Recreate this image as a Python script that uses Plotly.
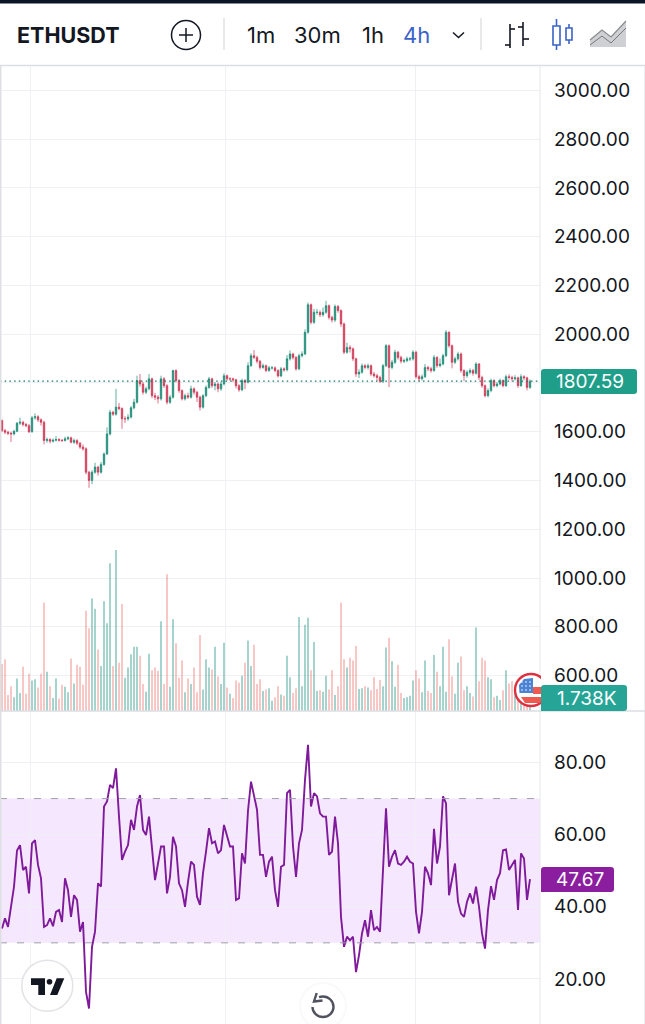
import plotly.graph_objects as go

#page size, everything else is placed in pixels from the top left
W = 645
H = 1024
PANE_RIGHT = 540

#candles
opens = [1646,1605,1598,1594,1591,1602,1635,1639,1630,1625,1600,1657,1662,1649,1639,1564,1568,1561,1565,1568,
         1565,1564,1571,1575,1557,1564,1553,1537,1530,1434,1400,1434,1455,1434,1466,1509,1591,1680,1672,1701,
         1695,1653,1653,1660,1698,1721,1810,1796,1762,1776,1817,1748,1742,1735,1817,1789,1721,1742,1851,1810,
         1769,1735,1748,1742,1776,1762,1742,1701,1748,1782,1817,1789,1796,1776,1796,1830,1817,1817,1813,1789,
         1772,1810,1803,1871,1912,1905,1889,1864,1871,1851,1862,1862,1851,1829,1858,1854,1899,1919,1905,1858,
         1912,1919,2008,2121,2049,2090,2090,2080,2090,2117,2069,2058,2114,2097,2042,1926,1946,1940,1899,1837,
         1844,1871,1864,1871,1837,1830,1823,1807,1871,1953,1864,1885,1926,1905,1889,1892,1899,1899,1926,1826,
         1817,1826,1864,1858,1851,1905,1871,1878,1912,2008,1953,1885,1899,1919,1851,1830,1844,1851,1840,1878,
         1823,1789,1748,1769,1810,1789,1796,1810,1789,1826,1823,1817,1821,1789,1826,1821,1782]
closes = [1605,1598,1594,1591,1602,1635,1639,1630,1625,1600,1657,1662,1649,1639,1564,1568,1561,1565,1568,1565,
          1564,1571,1575,1557,1564,1553,1537,1530,1434,1400,1434,1455,1434,1466,1509,1591,1680,1672,1701,1695,
          1653,1653,1660,1698,1721,1810,1796,1762,1776,1817,1748,1742,1735,1817,1789,1721,1742,1851,1810,1769,
          1735,1748,1742,1776,1762,1742,1701,1748,1782,1817,1789,1796,1776,1796,1830,1817,1817,1813,1789,1772,
          1810,1803,1871,1912,1905,1889,1864,1871,1851,1862,1862,1851,1829,1858,1854,1899,1919,1905,1858,1912,
          1919,2008,2121,2049,2090,2090,2080,2090,2117,2069,2058,2114,2097,2042,1926,1946,1940,1899,1837,1844,
          1871,1864,1871,1837,1830,1823,1807,1871,1953,1864,1885,1926,1905,1889,1892,1899,1899,1926,1826,1817,
          1826,1864,1858,1851,1905,1871,1878,1912,2008,1953,1885,1899,1919,1851,1830,1844,1851,1840,1878,1823,
          1789,1748,1769,1810,1789,1796,1810,1789,1826,1823,1817,1821,1789,1826,1821,1782,1807.59]
highs = [1650,1612,1604,1600,1608,1640,1658,1645,1636,1632,1665,1675,1668,1655,1645,1576,1574,1572,1582,1574,
         1570,1580,1582,1580,1572,1570,1558,1548,1536,1440,1442,1473,1460,1476,1515,1618,1690,1686,1776,1718,
         1700,1664,1672,1706,1735,1830,1837,1804,1785,1837,1822,1760,1750,1830,1824,1795,1750,1854,1856,1816,
         1774,1756,1760,1789,1782,1768,1748,1754,1790,1825,1822,1804,1802,1805,1840,1835,1824,1822,1818,1795,
         1818,1816,1885,1922,1935,1912,1894,1880,1876,1870,1870,1868,1856,1866,1864,1915,1933,1924,1910,1920,
         1930,2020,2130,2126,2104,2104,2098,2110,2137,2122,2076,2122,2120,2102,2048,1965,1955,1946,1904,1856,
         1880,1878,1880,1876,1846,1838,1830,1878,1960,1958,1895,1936,1932,1912,1900,1908,1908,1935,1932,1834,
         1835,1878,1870,1866,1915,1910,1900,1920,2017,2012,1958,1908,1928,1925,1856,1852,1860,1858,1885,1882,
         1830,1794,1778,1818,1815,1804,1818,1815,1834,1836,1830,1832,1826,1836,1832,1826,1815]
lows = [1598,1590,1586,1558,1585,1598,1628,1622,1618,1595,1596,1650,1640,1625,1548,1555,1552,1556,1560,1560,
        1558,1560,1566,1552,1550,1545,1530,1522,1425,1370,1385,1428,1420,1428,1460,1505,1585,1665,1666,1688,
        1612,1636,1645,1654,1692,1716,1785,1752,1755,1770,1738,1730,1716,1728,1780,1712,1714,1736,1802,1760,
        1728,1728,1735,1736,1752,1722,1687,1695,1742,1776,1780,1770,1762,1768,1790,1810,1808,1804,1778,1764,
        1766,1775,1798,1866,1898,1880,1855,1858,1844,1846,1855,1844,1822,1824,1846,1848,1892,1896,1850,1852,
        1905,1914,2002,2040,2042,2080,2070,2072,2084,2060,2048,2050,2088,2030,1918,1920,1925,1890,1825,1820,
        1838,1856,1855,1828,1822,1810,1800,1800,1865,1783,1856,1878,1896,1880,1882,1885,1890,1892,1818,1806,
        1810,1820,1848,1842,1846,1862,1864,1872,1906,1945,1860,1878,1892,1842,1808,1822,1836,1830,1834,1812,
        1780,1741,1741,1762,1782,1782,1790,1782,1784,1814,1806,1810,1780,1784,1812,1770,1776]

#volume in thousands
volumes = [6.8,7.5,2.3,3.6,2.0,4.7,2.6,6.4,2.5,5.4,4.4,4.6,3.4,5.4,15.7,5.7,3.6,1.9,4.7,1.8,
           3.8,3.5,2.7,7.6,4.0,6.7,6.4,3.8,14.5,12.0,16.3,14.8,8.9,6.5,15.9,12.7,21.4,6.5,23.3,7.0,
           15.5,4.8,6.3,8.2,9.3,9.3,8.0,3.9,2.8,8.3,5.9,6.3,5.8,13.0,3.9,19.8,3.5,13.3,9.8,4.8,
           7.3,2.7,4.7,3.9,6.3,2.7,11.0,3.1,7.5,6.3,6.0,9.3,5.0,3.9,9.9,3.4,2.5,1.9,4.4,4.1,
           5.1,7.0,10.2,6.5,9.6,3.9,4.6,2.9,3.1,3.3,1.5,2.0,3.6,2.4,2.2,8.0,4.9,2.6,3.3,13.6,
           3.6,12.5,13.5,5.9,10.0,2.9,3.0,2.8,5.1,3.1,5.9,2.3,3.6,15.7,7.5,6.3,7.7,7.3,9.4,3.2,
           3.3,3.6,3.4,3.0,4.9,3.2,4.5,3.6,9.2,10.6,7.2,3.5,6.7,2.6,1.9,2.0,2.2,4.4,5.9,4.7,
           2.7,7.3,2.9,2.6,8.1,5.7,3.6,9.3,2.8,10.4,5.0,2.5,7.0,7.9,3.0,3.6,2.6,2.1,12.1,4.3,
           7.7,7.3,4.9,4.6,2.0,2.2,1.6,3.0,5.9,4.0,4.3,3.0,3.5,2.0,1.2,1.4,1.738]

rsi = [34.0,36.8,34.4,40.5,45.6,55.6,57.1,50.2,51.1,43.7,57.6,58.5,51.6,47.9,34.4,34.9,36.8,34.6,38.6,39.1,
       35.8,47.9,44.6,37.2,43.2,41.9,33.1,35.8,16.4,11.8,28.9,33.1,46.5,45.6,67.8,69.2,73.8,72.9,78.4,65.0,
       53.0,55.3,57.1,64.1,61.3,67.8,71.0,61.3,59.9,65.0,55.7,47.4,52.0,56.7,56.7,43.7,48.3,59.4,56.7,46.5,
       44.6,40.0,46.9,52.5,51.6,42.8,40.5,49.3,55.3,61.8,57.6,58.1,54.8,55.7,62.7,59.6,56.7,56.7,41.9,42.3,
       54.8,52.0,66.7,74.7,70.6,66.9,54.4,54.4,48.3,52.5,53.9,44.6,40.0,51.1,51.6,71.5,72.4,56.7,48.3,57.6,
       61.3,75.2,84.9,67.8,71.5,70.6,65.9,65.0,65.0,54.4,55.3,65.0,57.6,37.2,28.9,31.7,30.7,31.7,21.9,26.6,
       32.6,36.3,31.7,39.1,33.5,34.4,33.1,49.7,67.3,51.1,53.9,55.7,52.0,51.6,52.5,53.9,52.5,52.0,38.6,32.6,
       38.6,51.1,49.3,46.0,61.6,52.0,56.7,70.6,68.7,43.2,47.9,52.0,41.4,38.1,37.2,41.4,43.7,40.9,45.6,40.0,
       32.6,28.4,39.1,45.7,41.9,47.4,49.3,55.7,55.9,50.2,51.6,53.0,39.1,54.8,53.4,41.9,47.67]

price_ticks = [600,800,1000,1200,1400,1600,1800,2000,2200,2400,2600,2800,3000]
#1800 sits behind the last price tag, so it keeps its grid line but no text
price_labels = ["600.00","800.00","1000.00","1200.00","1400.00","1600.00","","2000.00","2200.00","2400.00","2600.00","2800.00","3000.00"]
rsi_ticks = [20,40,60,80]
time_grid = [9.5,74.5,137.8]
intervals = ["1m","30m","1h","4h"]

UP = "#1b8a75"
DOWN = "#cf3654"
VOL_UP = "rgba(20,140,125,0.5)"
VOL_DOWN = "rgba(230,90,85,0.45)"
GRID = "#eff0f3"
TEXT = "#131722"
PURPLE = "#7f1a9b"
BLUE = "#3a62c8"

#pixel helpers
def px(x):
    return x / W

def py(y):
    return 1 - y / H

def pt(x, y):
    return f"{px(x):.5f},{py(y):.5f}"

def poly(points, close=True):
    d = "M" + " L".join(pt(x, y) for x, y in points)
    return d + (" Z" if close else "")

shapes = []
def add_path(d, fill=None, line=None, width=1):
    shapes.append(dict(type="path", xref="paper", yref="paper", path=d,
                       fillcolor=fill if fill else "rgba(0,0,0,0)",
                       line=dict(color=line if line else "rgba(0,0,0,0)", width=width if line else 0)))

def add_rect(x0, y0, x1, y1, fill):
    shapes.append(dict(type="rect", xref="paper", yref="paper", x0=px(x0), x1=px(x1), y0=py(y1), y1=py(y0),
                       fillcolor=fill, line=dict(width=0)))

def add_circle(cx, cy, r, fill=None, line=None, width=1):
    shapes.append(dict(type="circle", xref="paper", yref="paper", x0=px(cx-r), x1=px(cx+r), y0=py(cy+r), y1=py(cy-r),
                       fillcolor=fill if fill else "rgba(0,0,0,0)",
                       line=dict(color=line if line else "rgba(0,0,0,0)", width=width if line else 0)))

def add_line(x0, y0, x1, y1, color, width=1):
    shapes.append(dict(type="line", xref="paper", yref="paper", x0=px(x0), x1=px(x1), y0=py(y0), y1=py(y1),
                       line=dict(color=color, width=width)))

def add_tag(x0, y0, x1, y1, fill, r=3):
    d = (f"M{pt(x0+r,y0)} L{pt(x1-r,y0)} Q{pt(x1,y0)} {pt(x1,y0+r)} L{pt(x1,y1-r)} Q{pt(x1,y1)} {pt(x1-r,y1)} "
         f"L{pt(x0,y1)} L{pt(x0,y0+r)} Q{pt(x0,y0)} {pt(x0+r,y0)} Z")
    add_path(d, fill=fill)

annotations = []
def add_text(x, y, text, size=19, color=TEXT, anchor="left", bold=False):
    annotations.append(dict(xref="paper", yref="paper", x=px(x), y=py(y), text=f"<b>{text}</b>" if bold else text,
                            showarrow=False, xanchor=anchor, yanchor="middle", borderpad=0,
                            font=dict(family="Inter", size=size, color=color)))

x_idx = list(range(len(closes)))
vol_colors = [VOL_UP if c >= o else VOL_DOWN for o, c in zip(opens, closes)]

fig = go.Figure()

fig.add_trace(go.Bar(x=x_idx, y=volumes, yaxis="y2", width=0.5,
                     marker=dict(color=vol_colors, line=dict(width=0))))
fig.add_trace(go.Candlestick(x=x_idx, open=opens, high=highs, low=lows, close=closes,
                             increasing=dict(line=dict(color=UP, width=0.7), fillcolor=UP),
                             decreasing=dict(line=dict(color=DOWN, width=0.7), fillcolor=DOWN)))
fig.add_trace(go.Scatter(x=x_idx, y=rsi, mode="lines", xaxis="x2", yaxis="y3",
                         line=dict(color=PURPLE, width=1.9)))

#rsi band and last price line
shapes.append(dict(type="rect", xref="x2 domain", yref="y3", x0=0, x1=1, y0=30, y1=70, layer="below",
                   fillcolor="rgba(160,50,245,0.11)", line=dict(width=0)))
for level in (30, 70):
    shapes.append(dict(type="line", xref="x2 domain", yref="y3", x0=0, x1=1, y0=level, y1=level,
                       line=dict(color="#a29daa", width=1, dash="7px,10px")))
shapes.append(dict(type="line", xref="x domain", yref="y", x0=0, x1=1, y0=closes[-1], y1=closes[-1],
                   line=dict(color="#127a68", width=1.3, dash="1.5px,3.2px")))

#frame
add_rect(0, 0, W, 3.5, "#0a1626")
add_line(0, 65.5, W, 65.5, "#dcdee2", 1.5)
add_line(0.7, 66, 0.7, H, "#dddfe2", 1.5)
add_line(PANE_RIGHT, 66, PANE_RIGHT, H, "#e6e8eb", 1)
add_line(644.5, 66, 644.5, H, "#eceef0", 1)
add_line(0, 711, W, 711, "#dcdee2", 1.5)

#header
add_text(16, 35, "ETHUSDT", size=21.5, bold=True)
add_circle(186, 35, 14.5, line=TEXT, width=1.5)
add_line(179, 35, 193, 35, TEXT, 1.5)
add_line(186, 28, 186, 42, TEXT, 1.5)
add_line(224, 18, 224, 50, "#d8dade", 1.2)
add_line(481, 18, 481, 50, "#d8dade", 1.2)
for label, x in zip(intervals, (260.5, 317.5, 373, 417)):
    add_text(x, 35, label, size=22, color=BLUE if label == "4h" else TEXT, anchor="center")
add_path(poly([(453, 32.5), (458.5, 37.5), (464, 32.5)], close=False), line=TEXT, width=1.5)

#bar style icons
add_path(poly([(510, 24), (510, 48)], close=False), line=TEXT, width=1.6)
add_path(poly([(510, 29), (515, 29)], close=False), line=TEXT, width=1.6)
add_path(poly([(505, 45), (510, 45)], close=False), line=TEXT, width=1.6)
add_path(poly([(523, 22), (523, 46)], close=False), line=TEXT, width=1.6)
add_path(poly([(518, 27), (523, 27)], close=False), line=TEXT, width=1.6)
add_path(poly([(523, 39), (529, 39)], close=False), line=TEXT, width=1.6)
add_line(556.5, 19, 556.5, 50, BLUE, 1.6)
add_path(poly([(553, 26), (560, 26), (560, 45), (553, 45)]), line=BLUE, width=1.6, fill="white")
add_line(569, 24, 569, 44, BLUE, 1.6)
add_path(poly([(566, 28), (572, 28), (572, 40), (566, 40)]), line=BLUE, width=1.6, fill="white")
add_path(poly([(590, 40), (602, 30), (611, 37), (626, 21), (626, 47), (590, 47)]), fill="#cfd0d3")
add_path(poly([(590, 40), (602, 30), (611, 37), (626, 21)], close=False), line="#8a8b8f", width=1.2)
add_path(poly([(590, 45), (602, 36), (611, 43), (626, 28)], close=False), line="#77787c", width=1)

#us flag marker, cut by the pane edge
add_circle(531, 690, 16, fill="white", line="#dd3040", width=2.4)
add_path(poly([(519, 685), (524, 679), (533, 678), (533, 693), (519.5, 693)]), fill="#4c82d4")
for dx in (522, 526, 530):
    for dy in (682, 686, 690):
        add_circle(dx, dy, 0.8, fill="white")
add_path(poly([(533, 687), (544, 687), (544, 694), (533, 694)]), fill="#ee5a50")
add_path(poly([(521, 697), (544, 697), (540, 703), (525, 703)]), fill="#ee5a50")
add_rect(541, 670, 553, 686, "white")

#value tags
add_tag(541, 369, 637, 394, "#1f9e8a")
add_text(590, 381.5, "1807.59", color="white", anchor="center")
add_tag(541, 685, 627, 711, "#26a596")
add_text(587, 698, "1.738K", color="white", anchor="center")
add_tag(541, 867, 614, 892, "#8a1e9e")
add_text(580, 879.5, "47.67", color="white", anchor="center")

#tradingview badge
add_circle(47.3, 985.7, 25.5, fill="white", line="#e4e4e8", width=1.6)
add_path(poly([(31, 978.3), (45, 978.3), (45, 995), (38.3, 995), (38.3, 985), (31, 985)]), fill=TEXT)
add_circle(49.5, 981.7, 2.8, fill=TEXT)
add_path(poly([(56.7, 978.3), (64.3, 978.3), (57.3, 995), (50, 995)]), fill=TEXT)

#reset button
add_circle(323, 1006, 24, fill="rgba(0,0,0,0.025)")
add_circle(323, 1006, 22, fill="white")
arc = (f"M{pt(319,997.2)} Q{pt(321,996.5)} {pt(323,996.5)} C{pt(328.7,996.5)} {pt(333.5,1001)} {pt(333.5,1007)} "
       f"C{pt(333.5,1012.7)} {pt(328.7,1017)} {pt(323,1017)} C{pt(317.3,1017)} {pt(312.5,1012.7)} {pt(312.5,1007)}")
add_path(arc, line="#50535e", width=2.4)
add_path(poly([(316.7, 993), (314, 1001.5), (322.5, 1000.5)], close=False), line="#50535e", width=2.4)

axis_font = dict(family="Inter", size=19, color=TEXT)
x_style = dict(domain=[0, PANE_RIGHT / W], range=[-0.67, 179.33], tickmode="array", tickvals=time_grid,
               showticklabels=False, showgrid=True, gridcolor=GRID, gridwidth=1.4, zeroline=False, ticks="")

fig.update_layout(
    width=W, height=H,
    margin=dict(l=0, r=0, t=0, b=0),
    paper_bgcolor="white", plot_bgcolor="white",
    showlegend=False, barmode="overlay", hovermode=False,
    xaxis=dict(anchor="y", rangeslider=dict(visible=False), **x_style),
    xaxis2=dict(anchor="y3", matches="x", **x_style),
    yaxis=dict(domain=[py(711), py(66)], range=[454.6, 3100.2], side="right", tickmode="array",
               tickvals=price_ticks, ticktext=price_labels, tickfont=axis_font, ticklabelstandoff=13,
               gridcolor=GRID, gridwidth=1.4, zeroline=False),
    yaxis2=dict(domain=[py(711), py(66)], overlaying="y", range=[0, 93.4], visible=False),
    yaxis3=dict(anchor="x2", domain=[0, py(712)], range=[7.5, 94], side="right", tickmode="array",
                tickvals=rsi_ticks, tickformat=".2f", tickfont=axis_font, ticklabelstandoff=13,
                gridcolor=GRID, gridwidth=1.4, zeroline=False),
    shapes=shapes,
    annotations=annotations,
)

fig.write_html("out.html", config=dict(displayModeBar=False), post_script="document.body.style.margin='0';")
